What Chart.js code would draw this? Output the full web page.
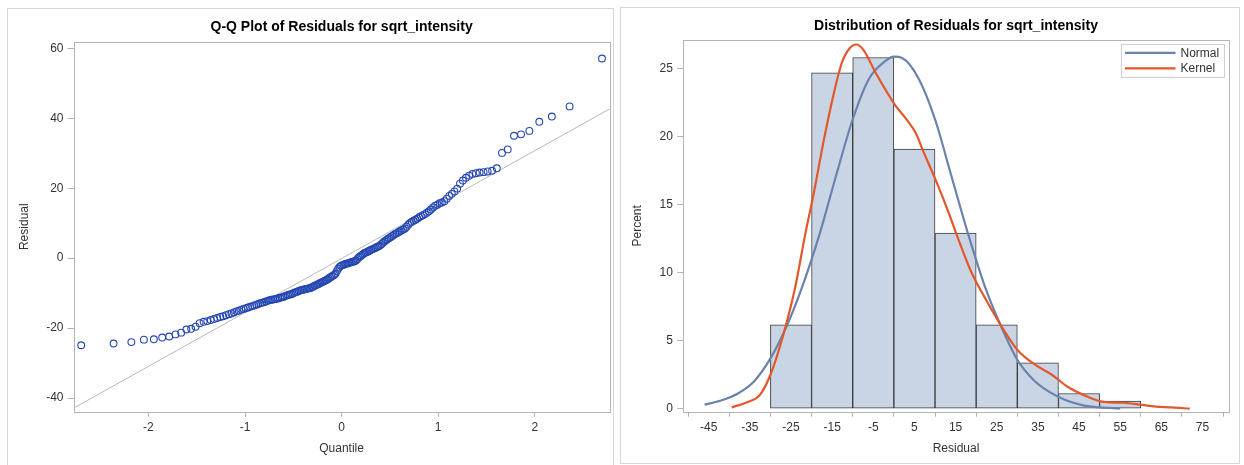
<!DOCTYPE html>
<html>
<head>
<meta charset="utf-8">
<script src="https://cdn.jsdelivr.net/npm/chart.js@4.4.1/dist/chart.umd.min.js"></script>
<style>
html,body{margin:0;padding:0;background:#fff;width:1244px;height:465px;overflow:hidden;}
.panel{position:absolute;border:1px solid #d6d6d6;box-sizing:border-box;}
#p1{left:7px;top:8px;width:607px;height:460px;}
#p2{left:620px;top:7px;width:620px;height:457px;}
.wrap{position:absolute;top:0;}
canvas{display:block;}
</style>
</head>
<body>
<div class="panel" id="p1"></div>
<div class="panel" id="p2"></div>
<div class="wrap" style="left:0;width:620px;height:465px"><canvas id="c1" width="620" height="465"></canvas></div>
<div class="wrap" style="left:620px;width:624px;height:465px"><canvas id="c2" width="624" height="465"></canvas></div>
<script>
// ---------------- data ----------------
// Q-Q plot: normal quantiles (x) and sorted residuals (y)
const qqQuantile = [
-2.696,-2.361,-2.177,-2.047,-1.944,-1.858,-1.785,-1.720,-1.661,-1.607,
-1.558,-1.512,-1.470,-1.429,-1.391,-1.355,-1.321,-1.288,-1.256,-1.226,
-1.197,-1.168,-1.141,-1.115,-1.089,-1.064,-1.039,-1.015,-0.992,-0.969,
-0.947,-0.925,-0.904,-0.883,-0.862,-0.842,-0.822,-0.803,-0.783,-0.765,
-0.746,-0.727,-0.709,-0.691,-0.673,-0.656,-0.639,-0.621,-0.604,-0.588,
-0.571,-0.555,-0.538,-0.522,-0.506,-0.490,-0.474,-0.459,-0.443,-0.428,
-0.412,-0.397,-0.382,-0.367,-0.352,-0.337,-0.322,-0.307,-0.292,-0.278,
-0.263,-0.249,-0.234,-0.220,-0.205,-0.191,-0.177,-0.162,-0.148,-0.134,
-0.120,-0.106,-0.092,-0.077,-0.063,-0.049,-0.035,-0.021,-0.007,
0.007,0.021,0.035,0.049,0.063,0.077,0.092,0.106,0.120,
0.134,0.148,0.162,0.177,0.191,0.205,0.220,0.234,0.249,0.263,
0.278,0.292,0.307,0.322,0.337,0.352,0.367,0.382,0.397,0.412,
0.428,0.443,0.459,0.474,0.490,0.506,0.522,0.538,0.555,0.571,
0.588,0.604,0.621,0.639,0.656,0.673,0.691,0.709,0.727,0.746,
0.765,0.783,0.803,0.822,0.842,0.862,0.883,0.904,0.925,0.947,
0.969,0.992,1.015,1.039,1.064,1.089,1.115,1.141,1.168,1.197,
1.226,1.256,1.288,1.321,1.355,1.391,1.429,1.470,1.512,1.558,
1.607,1.661,1.720,1.785,1.858,1.944,2.047,2.177,2.361,2.696
];
const qqResidual = [
-24.9,-24.4,-24.0,-23.3,-23.2,-22.7,-22.4,-21.8,-21.3,-20.4,
-20.2,-19.6,-18.6,-18.2,-18.0,-17.7,-17.4,-17.1,-16.8,-16.6,
-16.3,-16.0,-15.8,-15.5,-15.2,-15.0,-14.7,-14.5,-14.3,-14.1,
-13.9,-13.7,-13.5,-13.3,-13.1,-12.9,-12.7,-12.6,-12.4,-12.2,
-12.0,-11.9,-11.8,-11.7,-11.6,-11.5,-11.3,-11.2,-11.1,-10.9,
-10.7,-10.5,-10.4,-10.3,-10.1,-9.9,-9.7,-9.6,-9.4,-9.2,
-9.1,-9.0,-8.9,-8.8,-8.7,-8.6,-8.5,-8.3,-8.1,-7.9,
-7.7,-7.5,-7.3,-7.1,-6.9,-6.7,-6.5,-6.3,-6.1,-5.8,
-5.5,-5.3,-5.0,-4.8,-4.4,-3.7,-3.0,-2.5,-2.2,-2.0,
-1.9,-1.7,-1.6,-1.5,-1.4,-1.2,-1.1,-1.0,-0.9,-0.7,
-0.3,0.2,0.5,0.8,1.1,1.4,1.6,1.8,2.0,2.2,
2.4,2.6,2.8,3.0,3.2,3.4,3.6,4.0,4.4,4.8,
5.1,5.4,5.7,6.0,6.3,6.6,6.9,7.1,7.4,7.7,
8.0,8.2,8.5,9.0,9.6,10.1,10.4,10.7,11.0,11.3,
11.7,12.0,12.3,12.6,13.0,13.4,13.9,14.5,15.0,15.3,
15.7,15.9,16.3,17.0,17.8,18.4,19.1,19.9,21.3,22.2,
23.0,23.6,24.1,24.3,24.5,24.6,24.8,25.0,25.7,30.1,
31.1,35.0,35.4,36.4,39.0,40.5,43.4,57.1
];
const qqLineX = [-2.776, 2.776];
const qqLineY = [-42.9, 42.7];
const qqXTicks = [-2, -1, 0, 1, 2];
const qqYTicks = [-40, -20, 0, 20, 40, 60];

// Histogram: bin midpoints (width 10) and percent
const binMid = [-25, -15, -5, 5, 15, 25, 35, 45, 55];
const binPct = [6.18, 24.72, 25.84, 19.10, 12.92, 6.18, 3.37, 1.12, 0.56];
// Normal density curve (percent scale)
const normX = [-46,-42,-38,-34,-30,-26,-22,-18,-14,-10,-6,-2,0,2,6,10,14,18,22,26,30,34,38,42,46,50,55];
const normY = [0.3,0.6,1.1,2.0,3.7,6.1,9.2,12.9,17.2,21.3,24.3,25.6,25.9,25.8,24.3,21.3,17.1,12.9,9.1,6.1,3.6,2.1,1.2,0.6,0.25,0.1,0.03];
// Kernel density curve (percent scale)
const kernX = [-39.4,-35.5,-32.6,-30,-27,-24,-21.5,-19.5,-17,-14.6,-12.7,-10.8,-9.1,-7.4,-4.4,-1.5,0.4,3.3,5.3,7.2,10.2,13.1,16,18.9,22.8,26.7,30.1,34.5,38.4,42.3,46.2,51,55.9,59.8,63.7,67.5,71.9];
const kernY = [0.1,0.5,1.0,2.5,5.3,8.9,12.9,15.8,19.8,23.2,25.4,26.5,26.8,26.4,24.7,23.2,22.3,21.2,20.3,18.9,16.8,14.6,12.2,10.0,7.8,5.8,4.3,3.2,2.5,1.6,1.0,0.5,0.44,0.3,0.15,0.1,0.0];
const histXTicks = [-45, -35, -25, -15, -5, 5, 15, 25, 35, 45, 55, 65, 75];
const histYTicks = [0, 5, 10, 15, 20, 25];
const legendLabels = ['Normal', 'Kernel'];

// ---------------- helpers ----------------
const FONT = "'Liberation Sans', Arial, sans-serif";
Chart.defaults.font.family = FONT;
Chart.defaults.color = '#333';
Chart.defaults.animation = false;

const pairs = (xs, ys) => xs.map((x, i) => ({x: x, y: ys[i]}));
const setTicks = arr => s => { s.ticks = arr.map(v => ({value: v})); };
const AXIS_GRAY = '#b4b4b4';

function axis(o) {
  return {
    type: 'linear', min: o.min, max: o.max,
    afterBuildTicks: setTicks(o.ticks),
    afterFit: o.fit,
    grid: {drawOnChartArea: false, drawTicks: true, tickLength: o.tl, color: AXIS_GRAY, tickWidth: 1},
    border: {display: false},
    ticks: {padding: o.pad, color: '#333', font: {size: 12}, maxRotation: 0, autoSkip: false},
    title: {display: true, text: o.title, color: '#333', font: {size: 12}, padding: o.tpad}
  };
}

const framePlugin = {
  id: 'frame',
  beforeDatasetsDraw(chart) {
    const {ctx, chartArea: a} = chart;
    ctx.save();
    ctx.strokeStyle = AXIS_GRAY;
    ctx.lineWidth = 1;
    const l = Math.round(a.left) + 0.5, t = Math.round(a.top) + 0.5;
    ctx.strokeRect(l, t, Math.round(a.right) - Math.round(a.left), Math.round(a.bottom) - Math.round(a.top));
    ctx.restore();
  }
};

// ---------------- Q-Q plot ----------------
new Chart(document.getElementById('c1'), {
  type: 'scatter',
  data: {
    datasets: [
      {
        label: 'Residual', data: pairs(qqQuantile, qqResidual),
        pointStyle: 'circle', pointRadius: 3.4, pointBorderWidth: 1.1,
        borderColor: '#2446b2', backgroundColor: 'rgba(0,0,0,0)',
        pointBorderColor: '#2446b2', pointBackgroundColor: 'rgba(0,0,0,0)'
      },
      {
        type: 'line', label: 'Reference', data: pairs(qqLineX, qqLineY),
        borderColor: '#b9b9b9', borderWidth: 1, pointRadius: 0, showLine: true, fill: false
      }
    ]
  },
  options: {
    responsive: false,
    layout: {padding: {left: 0, top: 0, right: 10.3, bottom: 0}},
    plugins: {
      legend: {display: false}, tooltip: {enabled: false},
      title: {display: true, text: 'Q-Q Plot of Residuals for sqrt_intensity', fullSize: false,
              color: '#000', font: {size: 14, weight: 'bold'}, padding: {top: 18.4, bottom: 6.5}}
    },
    scales: {
      x: axis({min: -2.776, max: 2.776, ticks: qqXTicks, tl: 5, pad: 4, title: 'Quantile',
               tpad: {top: 0, bottom: 8.8}, fit: s => { s.height = 53.3; }}),
      y: axis({min: -43.9, max: 61.9, ticks: qqYTicks, tl: 6, pad: 4, title: 'Residual',
               tpad: {top: 17, bottom: 0}, fit: s => { s.width = 73.5; }})
    }
  },
  plugins: [framePlugin]
});

// ---------------- Histogram ----------------
const legendPlugin = {
  id: 'legendBox',
  afterDatasetsDraw(chart) {
    const {ctx} = chart;
    ctx.save();
    const bx = 501.5, by = 44.5, bw = 103, bh = 33;
    ctx.fillStyle = '#fff';
    ctx.fillRect(bx, by, bw, bh);
    ctx.strokeStyle = '#cfcfcf';
    ctx.lineWidth = 1;
    ctx.strokeRect(bx, by, bw, bh);
    ctx.font = '12px ' + FONT;
    ctx.textBaseline = 'middle';
    ctx.textAlign = 'left';
    legendLabels.forEach((lab, i) => {
      const ds = chart.data.datasets.find(d => d.label === lab);
      const y = 52.8 + i * 15.6;
      ctx.strokeStyle = ds.borderColor;
      ctx.lineWidth = 2.2;
      ctx.beginPath(); ctx.moveTo(505, y); ctx.lineTo(555.5, y); ctx.stroke();
      ctx.fillStyle = '#333';
      ctx.fillText(lab, 560.5, y + 0.5);
    });
    ctx.restore();
  }
};

new Chart(document.getElementById('c2'), {
  type: 'bar',
  data: {
    datasets: [
      {
        type: 'line', label: 'Kernel', data: pairs(kernX, kernY),
        borderColor: '#e4572b', borderWidth: 2.2, pointRadius: 0,
        cubicInterpolationMode: 'monotone', fill: false, order: 1
      },
      {
        type: 'line', label: 'Normal', data: pairs(normX, normY),
        borderColor: '#6983ac', borderWidth: 2.2, pointRadius: 0,
        cubicInterpolationMode: 'monotone', fill: false, order: 2
      },
      {
        type: 'bar', label: 'Percent', data: pairs(binMid, binPct),
        backgroundColor: '#c9d5e5', borderColor: '#3a3a3a', borderWidth: 1,
        borderSkipped: false, barPercentage: 1, categoryPercentage: 1, grouped: false, order: 3
      }
    ]
  },
  options: {
    responsive: false,
    layout: {padding: {left: 0, top: 0, right: 15.2, bottom: 0}},
    plugins: {
      legend: {display: false}, tooltip: {enabled: false},
      title: {display: true, text: 'Distribution of Residuals for sqrt_intensity', fullSize: false,
              color: '#000', font: {size: 14, weight: 'bold'}, padding: {top: 17.6, bottom: 5.6}}
    },
    scales: {
      x: Object.assign(axis({min: -51.2, max: 81.4, ticks: histXTicks, tl: 5, pad: 4, title: 'Residual',
               tpad: {top: 0, bottom: 8.8}, fit: s => { s.height = 53.3; }}), {offset: false}),
      y: axis({min: -0.22, max: 27.13, ticks: histYTicks, tl: 6, pad: 4.4, title: 'Percent',
               tpad: {top: 10.8, bottom: 0}, fit: s => { s.width = 63.2; }})
    }
  },
  plugins: [framePlugin, legendPlugin]
});
</script>
</body>
</html>
